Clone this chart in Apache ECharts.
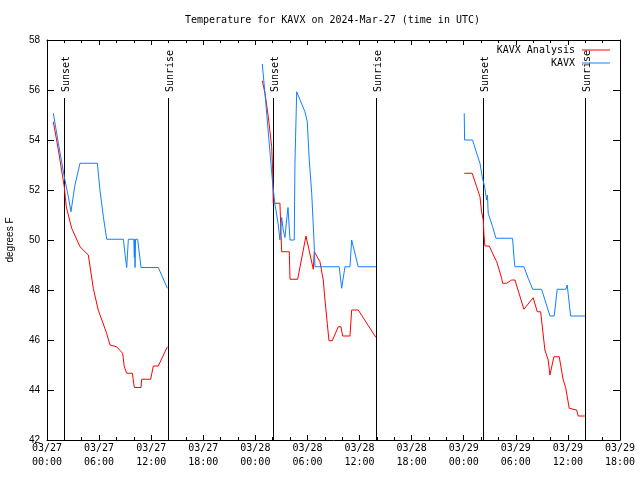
<!DOCTYPE html>
<html><head><meta charset="utf-8">
<script src="https://cdn.jsdelivr.net/npm/echarts@6/dist/echarts.min.js"></script>
<style>html,body{margin:0;padding:0;background:#fff}#c{width:640px;height:480px}</style>
</head><body><div id="c"></div>
<script>
// Time values are hours since 2024-03-27 00:00 UTC; null marks a gap.
const analysisHours = [
  0.73,1.31,1.99,2.22,2.84,3.8,4.76,5.33,5.9,6.87,7.26,8.02,8.71,8.9,9.18,9.83,10.06,10.83,10.9,11.94,12.25,12.82,13.86,
  20,
  24.8,25.11,25.49,25.88,25.99,26.06,26.83,27.03,27.91,27.99,28.87,29.83,30.67,30.79,31.44,31.82,32.02,32.28,32.48,32.86,33.55,33.86,34.05,34.9,35.09,35.85,37.89,
  44,
  48.06,48.98,49.49,49.87,50.06,50.25,50.33,50.44,50.94,51.41,51.8,52.37,52.48,52.95,53.52,53.9,54.93,56.0,56.47,56.86,57.35,57.73,57.93,58.39,59.0,59.46,59.74,59.92,60.15,61.0,61.19,61.96
];
const analysisTemps = [
  54.73,53.6,52.13,51.33,50.47,49.73,49.4,48.07,47.2,46.27,45.8,45.73,45.47,44.93,44.67,44.67,44.1,44.1,44.43,44.43,44.96,44.96,45.73,
  null,
  56.37,55.87,54.93,53.73,52.8,51.47,51.47,49.53,49.53,48.43,48.43,50.16,48.83,49.53,49.13,48.4,47.6,46.67,45.97,45.97,46.53,46.53,46.16,46.16,47.2,47.2,46.1,
  null,
  52.67,52.67,52.13,51.73,51.13,50.8,50.2,49.76,49.76,49.4,49.13,48.47,48.27,48.27,48.4,48.4,47.23,47.69,47.13,47.13,45.6,45.2,44.6,45.33,45.33,44.4,44.1,44.1,43.27,43.2,42.96,42.96
];
const kavxHours = [
  0.73,1.31,1.99,2.46,2.76,3.22,3.8,5.8,6.1,6.49,6.88,8.8,9.0,9.18,9.37,10.0,10.06,10.1,10.14,10.2,10.44,10.83,12.82,13.86,
  20,
  24.8,25.19,25.76,25.99,26.26,26.37,26.64,26.83,27.03,27.21,27.41,27.6,27.76,27.99,28.48,28.56,28.76,29.71,29.98,30.21,30.49,30.75,30.87,33.66,33.94,34.32,34.9,35.09,35.85,37.89,
  44,
  48.06,48.1,49.02,49.49,49.87,50.13,50.44,50.64,50.73,50.82,51.33,51.71,53.63,53.78,53.9,54.93,55.43,55.94,56.97,57.93,58.42,58.77,59.77,59.92,60.31,61.96
];
const kavxTemps = [
  55.07,53.87,52.53,51.73,51.13,52.2,53.07,53.07,52.0,50.93,50.03,50.03,49.4,48.9,50.03,50.03,49.3,50.03,48.9,50.03,50.03,48.9,48.9,48.07,
  null,
  57.04,55.53,53.2,52.27,51.4,51.2,50.6,50.0,50.9,50.4,50.1,50.8,51.3,50.0,50.0,53.07,55.93,55.13,54.73,53.2,51.87,50.0,48.93,48.93,48.07,48.93,48.93,50.0,48.93,48.93,
  null,
  55.07,54.0,54.0,53.47,53.07,52.53,52.07,51.6,51.8,51.07,50.53,50.07,50.07,49.33,48.93,48.93,48.47,48.03,48.03,46.96,46.96,48.03,48.03,48.2,46.96,46.96
];
const sunEventHours = [1.99, 13.9, 26.07, 37.85, 50.25, 61.96];
const sunEventNames = ['Sunset','Sunrise','Sunset','Sunrise','Sunset','Sunrise'];
const sunLineTop = 55.68;
const seriesNames = ['KAVX Analysis', 'KAVX'];
const seriesColors = ['#ff0000', '#1080ff'];
const yTicks = {min: 42, max: 58, interval: 2};
const xTicks = {min: 0, max: 66, interval: 6};

const MONO = '"DejaVu Sans Mono", monospace';
const SANS = '"Liberation Sans", Arial, sans-serif';
function pairs(h, t) { return h.map((x, i) => [x, t[i] === null ? '-' : t[i]]); }
function pad(n) { return (n < 10 ? '0' : '') + n; }
function xLabel(v) {
  const d = 27 + Math.floor(v / 24 + 1e-9);
  const h = Math.round(v - Math.floor(v / 24 + 1e-9) * 24);
  return '03/' + pad(d) + '\n' + pad(h) + ':00';
}
const axisLine = {show: true, onZero: false, lineStyle: {color: '#000', width: 1}};
function xAxis(pos, labels) {
  return {
    type: 'value', position: pos, min: xTicks.min, max: xTicks.max, interval: xTicks.interval,
    axisLine: axisLine,
    axisTick: {show: true, inside: true, length: 5, lineStyle: {color: '#000'}},
    minorTick: {show: true, splitNumber: 3, length: 3, lineStyle: {color: '#000'}},
    splitLine: {show: false}, minorSplitLine: {show: false},
    axisLabel: {show: labels, formatter: xLabel, fontFamily: MONO, fontSize: 10, color: '#000',
      lineHeight: 14, margin: 1, showMinLabel: true, showMaxLabel: true}
  };
}
function yAxis(pos, labels) {
  return {
    type: 'value', position: pos, min: yTicks.min, max: yTicks.max, interval: yTicks.interval,
    axisLine: axisLine,
    axisTick: {show: true, inside: true, length: 7, lineStyle: {color: '#000'}},
    splitLine: {show: false},
    axisLabel: {show: labels, fontFamily: SANS, fontSize: 10, color: '#000', margin: 7},
    name: labels ? 'degrees F' : '', nameLocation: 'middle', nameRotate: 90, nameGap: 32,
    nameTextStyle: {fontFamily: SANS, fontSize: 10, color: '#000'}
  };
}
const chart = echarts.init(document.getElementById('c'), null, {renderer: 'canvas'});
chart.setOption({
  animation: false,
  backgroundColor: '#fff',
  title: {text: 'Temperature for KAVX on 2024-Mar-27 (time in UTC)', left: 185, top: 15, padding: 0,
    textStyle: {fontFamily: MONO, fontSize: 10, fontWeight: 'normal', color: '#000'}},
  grid: {left: 47, right: 20, top: 40, bottom: 40, containLabel: false, outerBoundsMode: 'none'},
  legend: seriesNames.map((n, i) => ({
    data: [n], right: 30, top: 45 + i * 13, orient: 'vertical', align: 'right', padding: 0,
    icon: 'rect', itemWidth: 28, itemHeight: 1, selectedMode: false,
    textStyle: {fontFamily: MONO, fontSize: 10, color: '#000', padding: [0, 2, 0, 0]}
  })),
  xAxis: [xAxis('bottom', true), xAxis('top', false)],
  yAxis: [yAxis('left', true), yAxis('right', false)],
  series: [
    {
      type: 'custom', name: 'sun', z: 1, xAxisIndex: 0, yAxisIndex: 0,
      data: sunEventHours.map(h => [h, sunLineTop]),
      renderItem: function (params, api) {
        const t = api.value(0);
        const p0 = api.coord([t, yTicks.min]);
        const p1 = api.coord([t, api.value(1)]);
        const x = Math.round(p0[0]) + 0.5;
        return {type: 'group', children: [
          {type: 'line', shape: {x1: x, y1: p0[1], x2: x, y2: p1[1]}, style: {stroke: '#000', lineWidth: 1}},
          {type: 'text', x: x + 2, y: p1[1] - 6, rotation: Math.PI / 2,
            style: {text: sunEventNames[params.dataIndex], align: 'left', verticalAlign: 'middle',
              font: '10px ' + MONO, fill: '#000'}}
        ]};
      }
    },
    {type: 'line', name: seriesNames[0], z: 2, data: pairs(analysisHours, analysisTemps), showSymbol: false,
      symbol: 'none', connectNulls: false, color: seriesColors[0], lineStyle: {width: 1, color: seriesColors[0]}},
    {type: 'line', name: seriesNames[1], z: 3, data: pairs(kavxHours, kavxTemps), showSymbol: false,
      symbol: 'none', connectNulls: false, color: seriesColors[1], lineStyle: {width: 1, color: seriesColors[1]}}
  ]
});
</script></body></html>
